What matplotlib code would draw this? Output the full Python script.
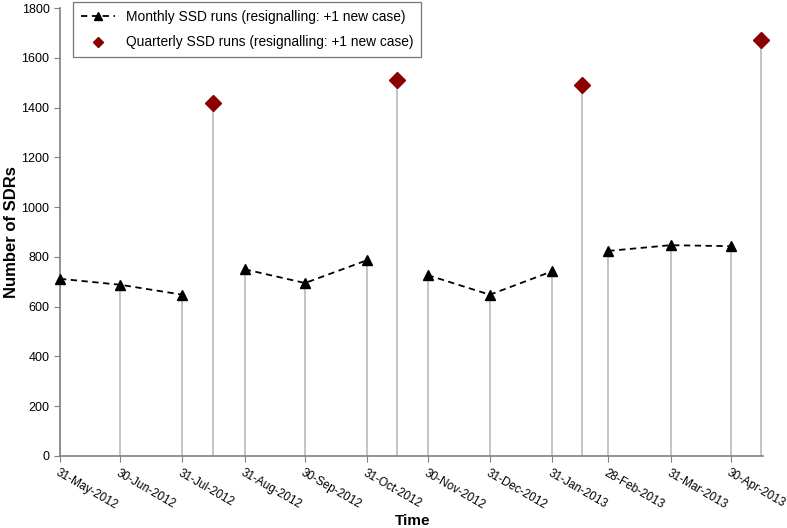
import datetime as dt

import matplotlib
matplotlib.use('Agg')
import matplotlib.pyplot as plt

plt.rcParams['font.family'] = ['Liberation Sans', 'DejaVu Sans']

# Datos
fechas_mensuales = [
    '2012-05-31', '2012-06-30', '2012-07-31',
    '2012-08-31', '2012-09-30', '2012-10-31',
    '2012-11-30', '2012-12-31', '2013-01-31',
    '2013-02-28', '2013-03-31', '2013-04-30',
]
sdr_mensuales = [712, 688, 648, 750, 695, 787, 727, 648, 742, 824, 847, 843]

fechas_trimestrales = ['2012-08-15', '2012-11-15', '2013-02-15', '2013-05-15']
sdr_trimestrales = [1420, 1512, 1489, 1670]

etiquetas_x = ['31-May-2012', '30-Jun-2012', '31-Jul-2012', '31-Aug-2012',
               '30-Sep-2012', '31-Oct-2012', '30-Nov-2012', '31-Dec-2012',
               '31-Jan-2013', '28-Feb-2013', '31-Mar-2013', '30-Apr-2013']


def a_fecha(s):
    return dt.datetime.strptime(s, '%Y-%m-%d')


fm = [a_fecha(s) for s in fechas_mensuales]
ft = [a_fecha(s) for s in fechas_trimestrales]

fig = plt.figure(figsize=(7.87, 5.28), dpi=100)
ax = fig.add_axes([0.0762, 0.1364, 0.8933, 0.8484])

gris = '#BFBFBF'
ax.vlines(fm, 0, sdr_mensuales, color=gris, lw=1.3, zorder=1)
ax.vlines(ft, 0, sdr_trimestrales, color=gris, lw=1.3, zorder=1)

# Lineas discontinuas en grupos de 3 meses
for i in range(0, len(fm), 3):
    ax.plot(fm[i:i + 3], sdr_mensuales[i:i + 3], color='black', ls=(0, (3.5, 2.5)),
            lw=1.3, marker='^', markersize=7.5, zorder=3, clip_on=False,
            label='Monthly SSD runs (resignalling: +1 new case)' if i == 0 else None)

ax.plot(ft, sdr_trimestrales, ls='none', marker='D', markersize=8,
        color='#8B0000', zorder=3, clip_on=False,
        label='Quarterly SSD runs (resignalling: +1 new case)')

ax.set_xlim(a_fecha('2012-05-31'), a_fecha('2013-05-16'))
ax.set_ylim(0, 1800)
ax.set_yticks(range(0, 1801, 200))
ax.set_xticks(fm)
ax.set_xticklabels(etiquetas_x, rotation=-30, ha='left', va='top',
                   rotation_mode='anchor', fontsize=8.5)
ax.tick_params(axis='y', labelsize=9, length=4, color='#808080')
ax.tick_params(axis='x', length=4, color='#808080', pad=4)

for lado in ['top', 'right']:
    ax.spines[lado].set_visible(False)
for lado in ['left', 'bottom']:
    ax.spines[lado].set_color('#808080')
    ax.spines[lado].set_linewidth(1.2)

ax.set_ylabel('Number of SDRs', fontsize=12, fontweight='bold', va='center')
ax.yaxis.set_label_coords(-0.069, 0.5)
ax.set_xlabel('Time', fontsize=11, fontweight='bold')
ax.xaxis.set_label_coords(0.502, -0.13)

leg = ax.legend(loc='upper left', bbox_to_anchor=(0.0185, 1.013), fontsize=9.9,
                frameon=True, fancybox=False, edgecolor='#555555', borderaxespad=0,
                handlelength=2.5, borderpad=0.55, labelspacing=0.85)
leg.get_frame().set_linewidth(0.9)
leg.legend_handles[0].set_markersize(6)
leg.legend_handles[1].set_markersize(5)

fig.savefig('out.png', dpi=100)
plt.close(fig)
